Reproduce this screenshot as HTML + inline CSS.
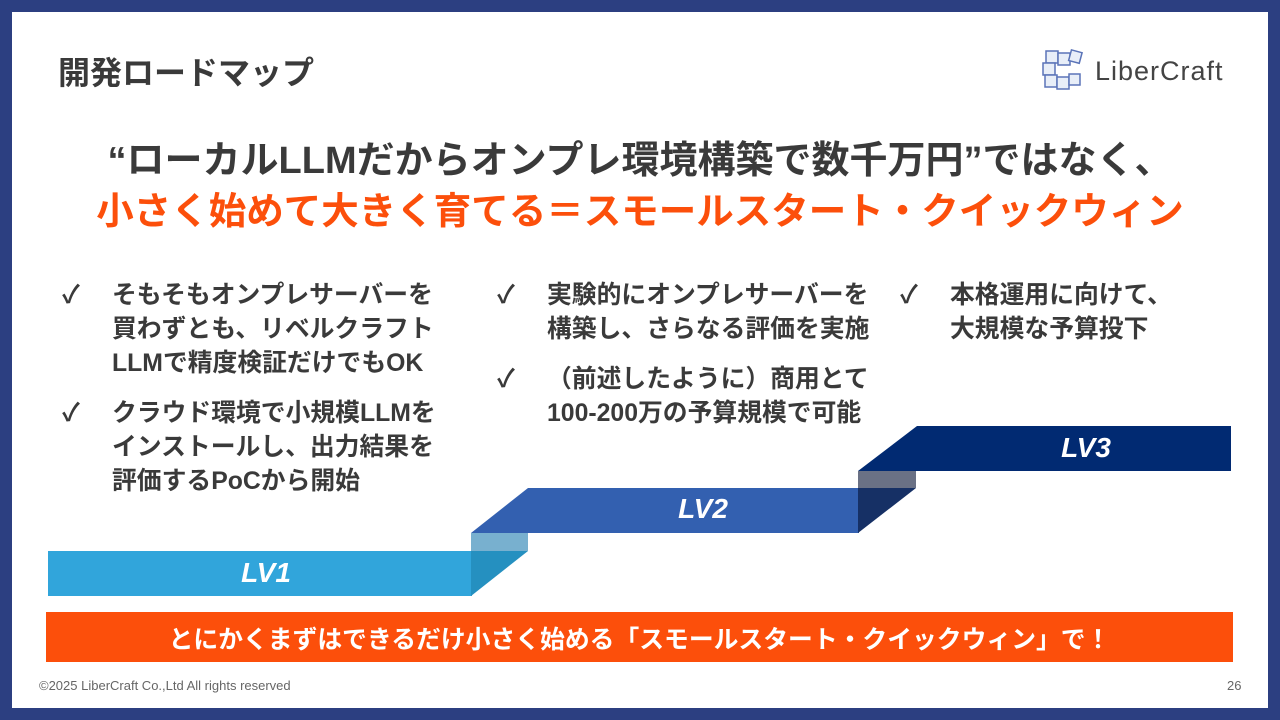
<!DOCTYPE html>
<html><head><meta charset="utf-8"><style>
body{margin:0;width:1280px;height:720px;background:#2c3f81;position:relative;overflow:hidden;font-family:"Liberation Sans","Noto Sans CJK JP",sans-serif}
.page{position:absolute;left:12px;top:12px;width:1256px;height:696px;background:#fff}
.t{position:absolute;white-space:nowrap;font-weight:bold}
.b{font-size:24.8px;line-height:34px;color:#3a3a3a}
</style></head><body>
<div class="page"></div>
<div class="t" style="left:58px;top:48px;font-size:32px;color:#3a3a3a">開発ロードマップ</div>
<svg style="position:absolute;left:1040px;top:48px" width="200" height="46">
<g fill="#e8eef8" stroke="#5b74b8" stroke-width="1.5">
<rect x="6" y="3" width="12" height="12"/><rect x="18" y="5" width="12" height="12"/><rect x="30" y="3" width="11" height="11" transform="rotate(15 35 8)"/>
<rect x="3" y="15" width="12" height="12"/><rect x="5" y="27" width="12" height="12"/><rect x="17" y="29" width="12" height="12"/><rect x="29" y="26" width="11" height="11"/>
</g>
<text x="55" y="32" font-family="Liberation Sans,sans-serif" font-size="27" letter-spacing="1" fill="#444">LiberCraft</text>
</svg>
<div class="t" style="left:0;width:1280px;text-align:center;top:129px;font-size:38px;color:#3a3a3a">“ローカルLLMだからオンプレ環境構築で数千万円”ではなく、</div>
<div class="t" style="left:0;width:1280px;text-align:center;top:180px;font-size:37.5px;color:#fc4f0b">小さく始めて大きく育てる＝スモールスタート・クイックウィン</div>
<div class="t b" style="left:62px;top:279px">✓</div>
<div class="t b" style="left:112px;top:279px">そもそもオンプレサーバーを<br>買わずとも、リベルクラフト<br>LLMで精度検証だけでもOK</div>
<div class="t b" style="left:62px;top:397px">✓</div>
<div class="t b" style="left:112px;top:397px">クラウド環境で小規模LLMを<br>インストールし、出力結果を<br>評価するPoCから開始</div>
<div class="t b" style="left:497px;top:279px">✓</div>
<div class="t b" style="left:547px;top:279px">実験的にオンプレサーバーを<br>構築し、さらなる評価を実施</div>
<div class="t b" style="left:497px;top:363px">✓</div>
<div class="t b" style="left:547px;top:363px">（前述したように）商用とて<br>100-200万の予算規模で可能</div>
<div class="t b" style="left:900px;top:279px">✓</div>
<div class="t b" style="left:950px;top:279px">本格運用に向けて、<br>大規模な予算投下</div>
<svg style="position:absolute;left:0;top:0" width="1280" height="720">
<rect x="48" y="551" width="424" height="45" fill="#31a5db"/>
<rect x="471" y="533" width="57" height="18" fill="#78b0cf"/>
<polygon points="471,551 528,551 471,596" fill="#2590c0"/>
<polygon points="528,488 859,488 859,533 471,533" fill="#3360b0"/>
<rect x="858" y="471" width="58" height="17" fill="#6a7185"/>
<polygon points="858,488 916,488 858,533" fill="#163065"/>
<polygon points="917,426 1231,426 1231,471 858,471" fill="#012a72"/>
<g font-family="Liberation Sans,sans-serif" font-weight="bold" font-style="italic" font-size="28" fill="#fff" text-anchor="middle">
<text x="266" y="582">LV1</text><text x="703" y="518">LV2</text><text x="1086" y="457">LV3</text></g>
</svg>
<div style="position:absolute;left:46px;top:612px;width:1187px;height:50px;background:#fc4f0b"></div>
<div class="t" style="left:46px;width:1187px;text-align:center;top:620px;font-size:24.8px;color:#fff">とにかくまずはできるだけ小さく始める「スモールスタート・クイックウィン」で！</div>
<div style="position:absolute;left:39px;top:678px;font-size:13px;color:#666;white-space:nowrap">©2025 LiberCraft Co.,Ltd All rights reserved</div>
<div style="position:absolute;left:1227px;top:678px;font-size:13px;color:#666">26</div>
</body></html>
